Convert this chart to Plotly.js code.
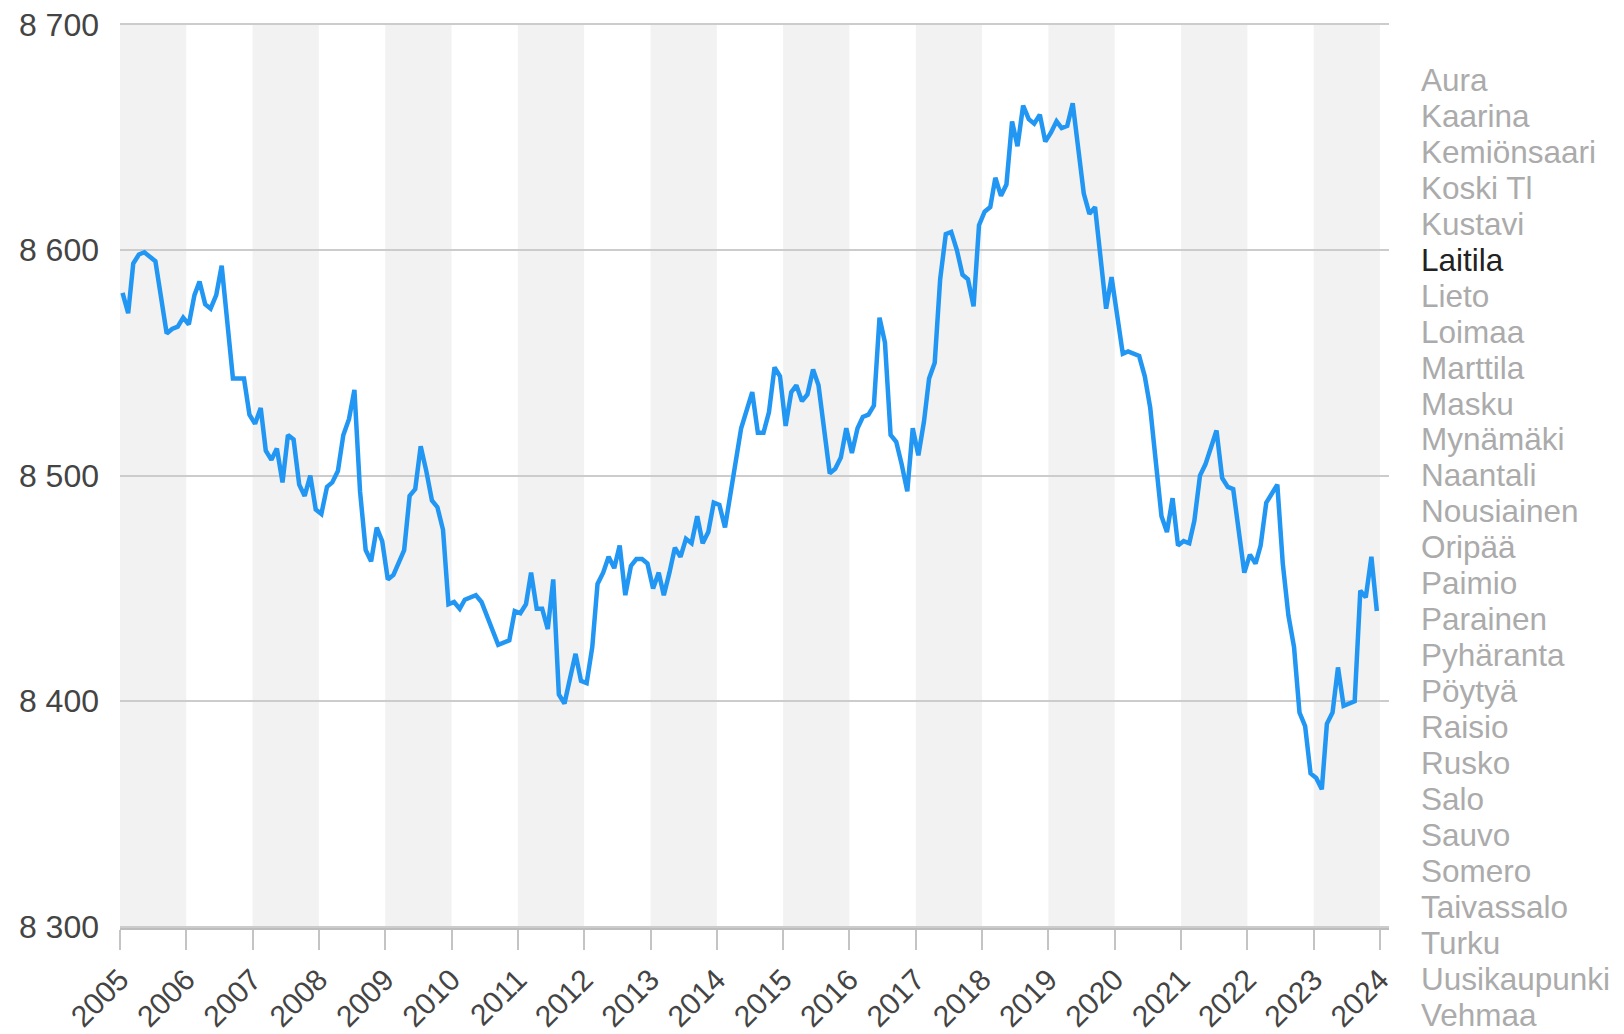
<!DOCTYPE html>
<html>
<head>
<meta charset="utf-8">
<script src="https://cdn.plot.ly/plotly-3.0.1.min.js"></script>
<style>
  html, body { margin: 0; padding: 0; background: #ffffff; }
  #chart { width: 1624px; height: 1034px; }
</style>
</head>
<body>
<div id="chart"></div>
<script>
// Laitila, kuukausittainen väkiluku tammikuusta 2005 joulukuuhun 2023
// (null = kuukausi, jota ei luettu kuvasta; viiva yhdistetään yli)
const startYear = 2005;
const population = [
  8581, 8572, 8594, 8598, 8599, 8597, 8595, null, 8563, 8565, 8566, 8570, // 2005
  8567, 8580, 8586, 8576, 8574, 8580, 8593, null, 8543, null, 8543, 8527, // 2006
  8523, 8530, 8511, 8507, 8512, 8497, 8518, 8516, 8496, 8491, 8500, 8485, // 2007
  8483, 8495, 8497, 8502, 8518, 8525, 8538, 8493, 8467, 8462, 8477, 8471, // 2008
  8454, 8456, null, 8467, 8491, 8494, 8513, 8502, 8489, 8486, 8476, 8443, // 2009
  8444, 8441, 8445, null, 8447, 8444, null, null, 8425, null, 8427, 8440, // 2010
  8439, 8443, 8457, 8441, 8441, 8432, 8454, 8403, 8399, 8410, 8421, 8409, // 2011
  8408, 8424, 8452, 8457, 8464, 8459, 8469, 8447, 8460, 8463, 8463, 8461, // 2012
  8450, 8457, 8447, 8457, 8468, 8464, 8472, 8470, 8482, 8470, 8475, 8488, // 2013
  8487, 8477, 8491, 8509, 8521, null, 8537, 8519, 8519, 8528, 8548, 8544, // 2014
  8522, 8537, 8540, 8533, 8536, 8547, 8540, null, 8501, 8503, 8508, 8521, // 2015
  8510, 8521, 8526, 8527, 8531, 8570, 8559, 8518, 8515, 8505, 8493, 8521, // 2016
  8509, 8524, 8543, 8550, 8587, 8607, 8608, 8600, 8589, 8587, 8575, 8611, // 2017
  8617, 8619, 8632, 8624, 8629, 8657, 8646, 8664, 8658, 8656, 8660, 8648, // 2018
  8652, 8657, 8654, 8655, 8665, null, 8625, 8616, 8619, null, 8574, 8588, // 2019
  null, 8554, 8555, 8554, 8553, 8544, 8530, null, 8482, 8475, 8490, 8469, // 2020
  8471, 8470, 8480, 8500, 8505, null, 8520, 8499, 8495, 8494, 8476, 8457, // 2021
  8465, 8461, 8469, 8488, null, 8496, 8461, 8438, 8424, 8395, 8389, 8368, // 2022
  8366, 8361, 8390, 8395, 8415, 8398, null, 8400, 8449, 8446, 8464, 8440  // 2023
];

const yearTicks = [2005, 2006, 2007, 2008, 2009, 2010, 2011, 2012, 2013, 2014,
                   2015, 2016, 2017, 2018, 2019, 2020, 2021, 2022, 2023, 2024];
const yTickVals = [8300, 8400, 8500, 8600, 8700];
const yTickText = ['8 300', '8 400', '8 500', '8 600', '8 700'];

const municipalities = [
  'Aura', 'Kaarina', 'Kemiönsaari', 'Koski Tl', 'Kustavi', 'Laitila', 'Lieto',
  'Loimaa', 'Marttila', 'Masku', 'Mynämäki', 'Naantali', 'Nousiainen', 'Oripää',
  'Paimio', 'Parainen', 'Pyhäranta', 'Pöytyä', 'Raisio', 'Rusko', 'Salo',
  'Sauvo', 'Somero', 'Taivassalo', 'Turku', 'Uusikaupunki', 'Vehmaa'
];
const selected = 'Laitila';

// kuukausipäivämäärät (keskikuu)
function monthDate(i) {
    const y = startYear + Math.floor(i / 12);
    const m = (i % 12) + 1;
    return y + '-' + String(m).padStart(2, '0') + '-15';
}
const dates = population.map((v, i) => monthDate(i));

const W = 1624, H = 1034;
const margin = { l: 120, r: 235, t: 23, b: 106 };
const plotW = W - margin.l - margin.r;
const plotH = H - margin.t - margin.b;

// harmaat vuosiraidat joka toiselle vuodelle
const shapes = [];
yearTicks.forEach((y, i) => {
    if (i % 2 === 0 && i < yearTicks.length - 1) {
        shapes.push({
            type: 'rect', xref: 'x', yref: 'paper',
            x0: y + '-01-01', x1: (y + 1) + '-01-01', y0: 0, y1: 1,
            fillcolor: '#f2f2f2', line: { width: 0 }, layer: 'below'
        });
    }
});

// kuntalista oikealla
const firstY = 80, stepY = 35.95, listX = 1419;
const annotations = municipalities.map((name, i) => ({
    text: name,
    xref: 'paper', yref: 'paper',
    x: (listX - margin.l) / plotW,
    y: (H - margin.b - (firstY + i * stepY)) / plotH,
    xanchor: 'left', yanchor: 'middle',
    showarrow: false,
    font: {
        family: 'Liberation Sans, Arial, sans-serif',
        size: 31.5,
        color: name === selected ? '#222222' : '#ababab'
    }
}));

const trace = {
    x: dates,
    y: population,
    type: 'scatter',
    mode: 'lines',
    connectgaps: true,
    line: { color: '#2196f3', width: 4.5 },
    hoverinfo: 'x+y'
};

const layout = {
    width: W,
    height: H,
    margin: margin,
    paper_bgcolor: '#ffffff',
    plot_bgcolor: '#ffffff',
    showlegend: false,
    font: { family: 'Liberation Sans, Arial, sans-serif', color: '#444444' },
    xaxis: {
        type: 'date',
        range: ['2005-01-01', '2024-02-20'],
        tickvals: yearTicks.map(y => y + '-01-01'),
        ticktext: yearTicks.map(String),
        tickangle: -45,
        tickfont: { size: 30, color: '#444444' },
        showgrid: false,
        zeroline: false,
        showline: true,
        linecolor: '#bdbdbd',
        linewidth: 2,
        ticks: 'outside',
        ticklen: 20,
        tickwidth: 2,
        tickcolor: '#c4c4c4'
    },
    yaxis: {
        range: [8299.5, 8700.6],
        tickvals: yTickVals,
        ticktext: yTickText,
        tickfont: { size: 32, color: '#444444' },
        showgrid: true,
        gridcolor: '#cccccc',
        gridwidth: 2,
        zeroline: false,
        showline: false,
        ticks: '',
        ticklabelstandoff: 20
    },
    shapes: shapes,
    annotations: annotations
};

Plotly.newPlot('chart', [trace], layout, { displayModeBar: false, staticPlot: true });
</script>
</body>
</html>
